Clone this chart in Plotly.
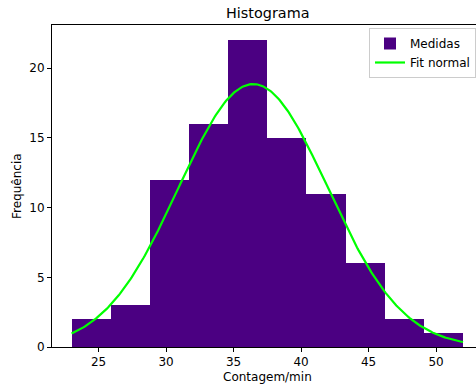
import numpy as np
import plotly.graph_objects as go

# Histogram data (bin edges and counts)
bin_edges = [23.0, 25.9, 28.8, 31.7, 34.6, 37.5, 40.4, 43.3, 46.2, 49.1, 52.0]
counts = [2, 3, 12, 16, 22, 15, 11, 6, 2, 1]

# Normal fit parameters
fit_mean = 36.45
fit_std = 5.52

x_ticks = [25, 30, 35, 40, 45, 50]
y_ticks = [0, 5, 10, 15, 20]

edges = np.array(bin_edges)
centers = (edges[:-1] + edges[1:]) / 2
widths = np.diff(edges)
n_total = sum(counts)
bw = widths.mean()

xs = np.linspace(edges[0], edges[-1], 300)
pdf = np.exp(-0.5 * ((xs - fit_mean) / fit_std) ** 2) / (fit_std * np.sqrt(2 * np.pi))
ys = pdf * n_total * bw

FONT = "DejaVu Sans"
W, H = 476, 385
L, R, T, B = 52, 0, 25, 38
pw = W - L - R
ph = H - T - B

fig = go.Figure()
fig.add_trace(go.Bar(
    x=centers, y=counts, width=widths, name="Medidas",
    marker=dict(color="#4B0082", line=dict(width=0)),
))
fig.add_trace(go.Scatter(
    x=xs, y=ys, mode="lines", name="Fit normal",
    line=dict(color="#00FF00", width=2.2),
))

x0 = 21.55
x1 = x0 + pw / 13.5
fig.update_layout(
    width=W, height=H,
    margin=dict(l=L, r=R, t=T, b=B, autoexpand=False),
    paper_bgcolor="white", plot_bgcolor="white",
    font=dict(family=FONT, size=12, color="black"),
    showlegend=True,
    legend=dict(
        x=(369 - L) / pw, y=(H - B - 28) / ph, xanchor="left", yanchor="top",
        bgcolor="rgba(255,255,255,0.8)", bordercolor="#cccccc", borderwidth=1,
        font=dict(family=FONT, size=12, color="black"),
        tracegroupgap=0, itemwidth=30,
    ),
    bargap=0,
    xaxis=dict(
        range=[x0, x1], tickvals=x_ticks, ticks="outside", ticklen=4,
        tickcolor="black", showgrid=False, zeroline=False,
        showline=True, linecolor="black", linewidth=1, mirror=True,
        tickfont=dict(family=FONT, size=12), automargin=False,
    ),
    yaxis=dict(
        range=[0, 23.1], tickvals=y_ticks, ticks="outside", ticklen=4,
        tickcolor="black", showgrid=False, zeroline=False,
        showline=True, linecolor="black", linewidth=1,
        tickfont=dict(family=FONT, size=12), automargin=False,
    ),
    annotations=[
        dict(text="Histograma", xref="paper", yref="paper",
             x=(267 - L) / pw, y=(H - B - 13) / ph, xanchor="center", yanchor="middle",
             showarrow=False, font=dict(family=FONT, size=14.4)),
        dict(text="Contagem/min", xref="paper", yref="paper",
             x=(267 - L) / pw, y=(H - B - 377) / ph, xanchor="center", yanchor="middle",
             showarrow=False, font=dict(family=FONT, size=12)),
        dict(text="Frequência", xref="paper", yref="paper",
             x=(17 - L) / pw, y=(H - B - 186) / ph, xanchor="center", yanchor="middle",
             textangle=-90, showarrow=False, font=dict(family=FONT, size=12)),
    ],
)

fig.write_html("out.html", config={"displayModeBar": False},
               post_script="document.body.style.margin='0';")
